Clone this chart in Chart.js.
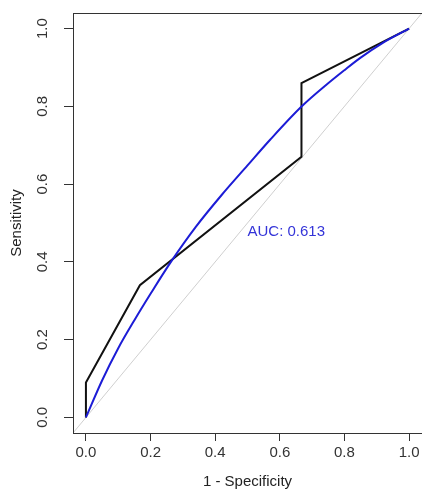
<!DOCTYPE html>
<html>
<head>
<meta charset="utf-8">
<script src="https://cdn.jsdelivr.net/npm/chart.js@4"></script>
<style>
  body { margin: 0; background: #fff; }
  canvas { display: block; }
</style>
</head>
<body>
<canvas id="roc" width="422" height="502"></canvas>
<script>
// empirical ROC (1 - specificity, sensitivity)
var rocFpr = [0, 0, 0.167, 0.667, 0.667, 1];
var rocSens = [0, 0.09, 0.34, 0.67, 0.86, 1];

// smoothed curve
var smoothFpr = [0, 0.05, 0.1, 0.15, 0.2, 0.263, 0.34, 0.42, 0.5, 0.57, 0.668, 0.745, 0.8, 0.848, 0.92, 1];
var smoothSens = [0, 0.095, 0.178, 0.25, 0.318, 0.4, 0.49, 0.572, 0.648, 0.714, 0.8, 0.856, 0.893, 0.924, 0.964, 1];

// chance line
var diagX = [-0.04, 1.04];
var diagY = [-0.04, 1.04];

var tickValues = [0, 0.2, 0.4, 0.6, 0.8, 1];
var aucText = "AUC: 0.613";
var aucPos = [0.5, 0.478];

function toPoints(xs, ys) {
  return xs.map(function (x, i) { return { x: x, y: ys[i] }; });
}

var font = "'Liberation Sans', Arial, sans-serif";

// box around the plot + AUC label
var extras = {
  id: "extras",
  afterDraw: function (chart) {
    var ctx = chart.ctx;
    var a = chart.chartArea;
    ctx.save();
    ctx.strokeStyle = "#333";
    ctx.lineWidth = 1;
    ctx.strokeRect(a.left + 0.5, a.top + 0.5, a.right - a.left, a.bottom - a.top);
    ctx.fillStyle = "#3434d8";
    ctx.font = "15px " + font;
    ctx.textAlign = "left";
    ctx.textBaseline = "middle";
    ctx.fillText(aucText, chart.scales.x.getPixelForValue(aucPos[0]), chart.scales.y.getPixelForValue(aucPos[1]));
    ctx.restore();
  },
};

var axisTicks = function (scale) {
  scale.ticks = tickValues.map(function (v) { return { value: v }; });
};

new Chart(document.getElementById("roc"), {
  type: "scatter",
  data: {
    datasets: [
      {
        data: toPoints(smoothFpr, smoothSens),
        showLine: true,
        borderColor: "#1c1cd6",
        borderWidth: 2,
        pointRadius: 0,
        cubicInterpolationMode: "monotone",
      },
      {
        data: toPoints(rocFpr, rocSens),
        showLine: true,
        borderColor: "#111",
        borderWidth: 2,
        pointRadius: 0,
        tension: 0,
      },
      {
        data: toPoints(diagX, diagY),
        showLine: true,
        borderColor: "#cfcfcf",
        borderWidth: 1,
        pointRadius: 0,
      },
    ],
  },
  options: {
    responsive: false,
    animation: false,
    devicePixelRatio: 1,
    layout: { padding: { top: 13, right: 0, left: 0, bottom: 0 } },
    plugins: { legend: { display: false }, tooltip: { enabled: false } },
    scales: {
      x: {
        type: "linear",
        min: -0.04,
        max: 1.04,
        afterBuildTicks: axisTicks,
        afterFit: function (s) { s.height = 69; s.paddingLeft = 0; s.paddingRight = 0; },
        grid: { drawOnChartArea: false, tickLength: 8, color: "#333" },
        border: { color: "#333" },
        ticks: {
          padding: 3,
          color: "#333",
          font: { family: font, size: 15 },
          callback: function (v) { return v.toFixed(1); },
        },
        title: {
          display: true,
          text: "1 - Specificity",
          color: "#222",
          font: { family: font, size: 15 },
          padding: { top: 0, bottom: 11 },
        },
      },
      y: {
        type: "linear",
        min: -0.04,
        max: 1.04,
        afterBuildTicks: axisTicks,
        afterFit: function (s) { s.width = 73; s.paddingTop = 0; s.paddingBottom = 0; },
        grid: { drawOnChartArea: false, tickLength: 9, color: "#333" },
        border: { color: "#333" },
        ticks: {
          padding: 11,
          minRotation: 90,
          maxRotation: 90,
          crossAlign: "center",
          color: "#333",
          font: { family: font, size: 15 },
          callback: function (v) { return v.toFixed(1); },
        },
        title: {
          display: true,
          text: "Sensitivity",
          color: "#222",
          font: { family: font, size: 15 },
          padding: { top: 8, bottom: 0 },
        },
      },
    },
  },
  plugins: [extras],
});
</script>
</body>
</html>
